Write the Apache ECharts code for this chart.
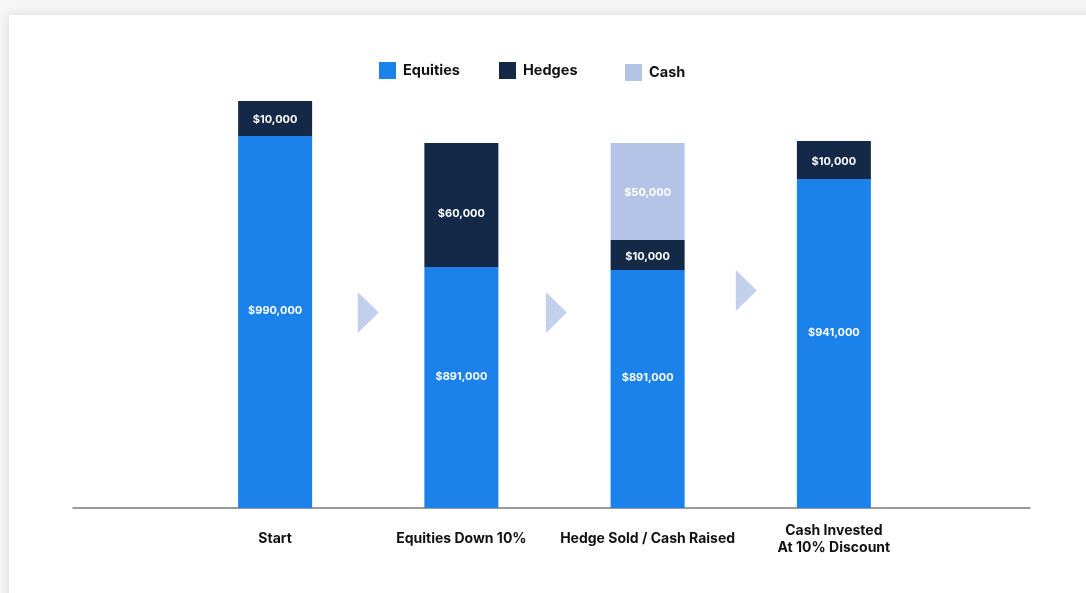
<!DOCTYPE html>
<html>
<head>
<meta charset="utf-8">
<script src="https://cdn.jsdelivr.net/npm/echarts@6/dist/echarts.min.js"></script>
<style>
  html, body { margin: 0; padding: 0; width: 1086px; height: 593px; overflow: hidden; background: #f6f6f6; }
  #card { position: absolute; left: 9px; top: 15px; width: 1100px; height: 600px; background: #fff; box-shadow: 0 0 10px rgba(0,0,0,0.12); }
  #chart { position: absolute; left: 0; top: 0; width: 1086px; height: 593px; }
</style>
</head>
<body>
<div id="card"></div>
<div id="chart"></div>
<script>
// Categories
const categories = ['Start', 'Equities Down 10%', 'Hedge Sold / Cash Raised', 'Cash Invested\nAt 10% Discount'];
// Dollar values shown in the bar labels
const equitiesValues = [990000, 891000, 891000, 941000];
const hedgesValues = [10000, 60000, 10000, 10000];
const cashValues = [null, null, 50000, null];
// Displayed segment heights (the chart is illustrative, not to scale)
const equitiesHeights = [372, 241, 238, 329];
const hedgesHeights = [35, 124, 30, 38];
const cashHeights = [null, null, 97, null];
// Step arrows between bars (position along category axis, height)
const arrowX = [0.5, 1.51, 2.53];
const arrowY = [195.5, 195.5, 217.5];

const FONT = 'Inter';
const COLORS = { equities: '#1a82ea', hedges: '#142848', cash: '#b4c4e7', arrow: '#b4c4e7' };

function fmt(v) { return '$' + v.toLocaleString('en-US'); }

function buildData(heights, values, offsets) {
  return heights.map((h, i) => {
    if (h == null) return null;
    const item = { value: h, dollar: values[i] };
    if (offsets && offsets[i] != null) item.label = { offset: [0, offsets[i]] };
    return item;
  });
}

const labelBase = {
  show: true,
  position: 'inside',
  color: '#ffffff',
  fontFamily: FONT,
  fontWeight: 'bold',
  fontSize: 11,
  formatter: p => (p.data && p.data.dollar != null ? fmt(p.data.dollar) : '')
};

const chart = echarts.init(document.getElementById('chart'));
chart.setOption({
  animation: false,
  backgroundColor: 'transparent',
  textStyle: { fontFamily: FONT },
  legend: [
    { data: ['Equities'], left: 379, top: 62 },
    { data: ['Hedges'], left: 499, top: 62 },
    { data: ['Cash'], left: 625, top: 64 }
  ].map(l => Object.assign({
    icon: 'rect', itemWidth: 17, itemHeight: 17, itemGap: 7, padding: 0,
    textStyle: { fontFamily: FONT, fontWeight: 'bold', fontSize: 14.5, color: '#111', padding: [3, 0, 0, 2] },
    selectedMode: false
  }, l)),
  grid: [
    { left: 182, right: 159, top: 100, bottom: 85 },
    { left: 73, right: 56, top: 507, bottom: 85 }
  ],
  xAxis: [
    {
      type: 'category', gridIndex: 0, data: categories,
      axisLine: { show: false }, axisTick: { show: false },
      axisLabel: {
        margin: 31, verticalAlign: 'middle', lineHeight: 17,
        color: '#111', fontFamily: FONT, fontWeight: 'bold', fontSize: 14, interval: 0
      }
    },
    { type: 'value', gridIndex: 0, min: -0.5, max: 3.5, show: false },
    {
      type: 'value', gridIndex: 1, min: 0, max: 1,
      axisLine: { show: true, lineStyle: { color: '#7a7a7a', width: 1.5 } },
      axisTick: { show: false }, axisLabel: { show: false }, splitLine: { show: false }
    }
  ],
  yAxis: [
    { type: 'value', gridIndex: 0, min: 0, max: 408, show: false, splitLine: { show: false } },
    { type: 'value', gridIndex: 1, min: 0, max: 1, show: false }
  ],
  series: [
    {
      name: 'Equities', type: 'bar', stack: 'total', barWidth: 74,
      xAxisIndex: 0, yAxisIndex: 0,
      itemStyle: { color: COLORS.equities },
      label: Object.assign({}, labelBase, { offset: [0, -11] }),
      data: buildData(equitiesHeights, equitiesValues)
    },
    {
      name: 'Hedges', type: 'bar', stack: 'total', barWidth: 74,
      xAxisIndex: 0, yAxisIndex: 0,
      itemStyle: { color: COLORS.hedges },
      label: Object.assign({}, labelBase, { offset: [0, 1.5] }),
      data: buildData(hedgesHeights, hedgesValues, [null, 9, null, null])
    },
    {
      name: 'Cash', type: 'bar', stack: 'total', barWidth: 74,
      xAxisIndex: 0, yAxisIndex: 0,
      itemStyle: { color: COLORS.cash },
      label: Object.assign({}, labelBase, { offset: [0, 1.5] }),
      data: buildData(cashHeights, cashValues)
    },
    {
      name: 'arrows', type: 'scatter', xAxisIndex: 1, yAxisIndex: 0,
      symbol: 'triangle', symbolSize: [41, 21], symbolRotate: -90,
      itemStyle: { color: COLORS.arrow }, silent: true,
      data: arrowX.map((x, i) => [x, arrowY[i]])
    }
  ]
});
</script>
</body>
</html>
